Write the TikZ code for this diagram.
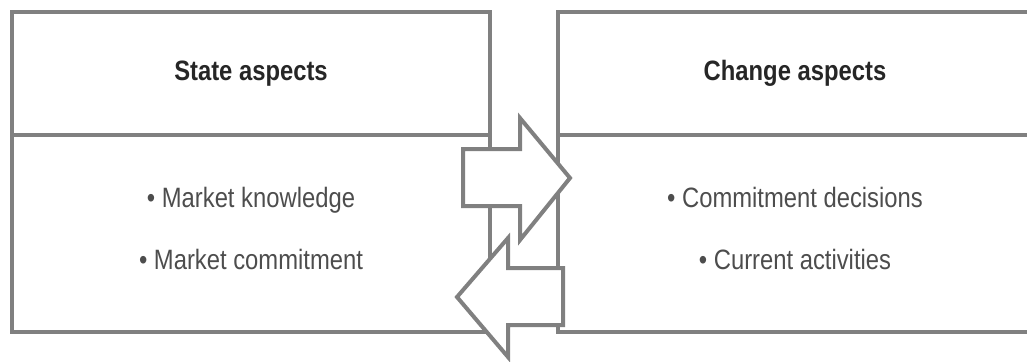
\documentclass[tikz,border=0pt]{standalone}
\usepackage{fontspec}
\setmainfont[FakeStretch=0.85]{Liberation Sans}
\usetikzlibrary{positioning}
\definecolor{boxgray}{HTML}{808080}
\definecolor{titlegray}{HTML}{262626}
\definecolor{itemgray}{HTML}{4D4D4D}
\newcommand{\lowstrut}{\rule[-5pt]{0pt}{0pt}}

\begin{document}
\begin{tikzpicture}[x=0.5pt,y=-0.5pt,
    box/.style={draw=boxgray,line width=2pt,inner sep=0pt,outer sep=0pt,align=center},
    headbox/.style={box,minimum height=61.5pt,font=\fontsize{14}{17}\selectfont\bfseries,text=titlegray},
    bodybox/.style={box,minimum height=98.5pt,font=\fontsize{14}{31}\selectfont,text=itemgray},
    blockarrow/.style={draw=boxgray,fill=white,line width=2pt}]
    \clip (0,0) rectangle (1027,361);

    % State side
    \node[headbox,minimum width=239pt] (statehead) at (251,73.5) {State aspects};
    \node[bodybox,minimum width=239pt,below=0pt of statehead] (statebody)
        {• Market knowledge\\• Market commitment\lowstrut};

    % Change side
    \node[headbox,minimum width=237pt] (changehead) at (795,73.5) {Change aspects};
    \node[bodybox,minimum width=237pt,below=0pt of changehead] (changebody)
        {• Commitment decisions\\• Current activities\lowstrut};

    % Block arrows between the two sides
    \draw[blockarrow] (463,149) -- (520,149) -- (520,118) -- (570,178)
        -- (520,240) -- (520,206) -- (463,206) -- cycle;
    \draw[blockarrow] (563,268) -- (508,268) -- (508,238) -- (457,297)
        -- (508,357) -- (508,325) -- (563,325) -- cycle;
\end{tikzpicture}
\end{document}
